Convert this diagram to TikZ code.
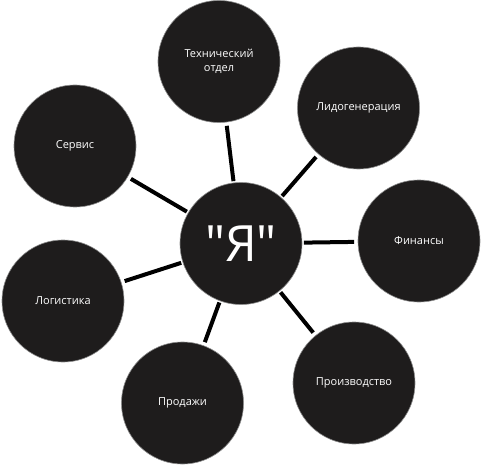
\documentclass[tikz,border=0pt]{standalone}
\usepackage{fontspec}
\setmainfont{Open Sans}
\newfontfamily\hubfont{Open Sans}
\definecolor{disc}{RGB}{30,28,28}

\begin{document}
\begin{tikzpicture}[x=1pt, y=-1pt, line cap=butt,
  dept/.style={circle, minimum size=122pt, inner sep=0pt, fill=disc,
    draw=black!45, line width=0.6pt, text=white, align=center, font=\fontsize{11}{14}\selectfont},
  hub/.style={dept, font=\hubfont\fontsize{50}{50}\selectfont},
  link/.style={line width=4pt, shorten >=1.5pt, shorten <=3.5pt}]

\useasboundingbox (0,0) rectangle (482,468);

% центральный круг
\node[hub] (ya) at (241,243.5) {"Я"};

% отделы вокруг
\node[dept] (tech) at (219,61.5) {Технический\\отдел};
\node[dept] (lead) at (358.5,108) {Лидогенерация};
\node[dept] (fin)  at (419,241) {Финансы};
\node[dept] (prod) at (354,383) {Производство};
\node[dept] (sale) at (182.5,403) {Продажи};
\node[dept] (log)  at (63,301) {Логистика};
\node[dept] (serv) at (75,146) {Сервис};

% связи с центром
\foreach \d in {tech,lead,fin,prod,sale,log,serv}
  \draw[link] (\d) -- (ya);

\end{tikzpicture}
\end{document}
